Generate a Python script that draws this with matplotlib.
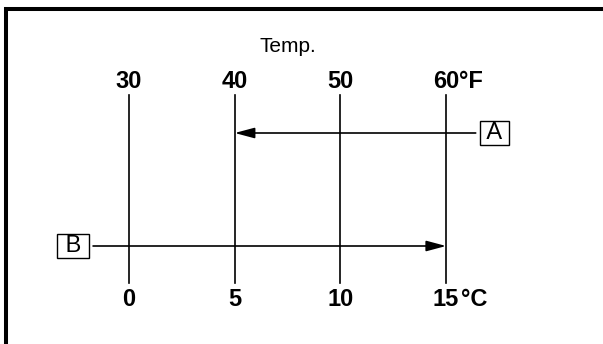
import matplotlib
matplotlib.use("Agg")
import matplotlib.pyplot as plt

# Scale labels (top: Fahrenheit, bottom: Celsius)
fahrenheit = ["30", "40", "50", "60"]
celsius = ["0", "5", "10", "15"]
units = ["°F", "°C"]
positions = [0, 1, 2, 3]

# Arrows: (label, start position, end position)
arrow_a = ("A", 3.28, 1)
arrow_b = ("B", -0.34, 3)

W, H = 603, 344
STEP = 105.7   # pixels between two scale lines
X0 = 129       # pixel position of the first line
fig = plt.figure(figsize=(W / 100, H / 100), dpi=100)
ax = fig.add_axes([0, 0, 1, 1])
xmin, xmax = -X0 / STEP, (W - X0) / STEP
ax.set_xlim(xmin, xmax)
ax.set_ylim(H, 0)
ax.axis("off")

font = ["Liberation Sans", "DejaVu Sans"]

# frame (top and left only)
ax.plot([xmin + 6 / STEP] * 2, [H, 7], color="black", lw=2.9, solid_capstyle="butt")
ax.plot([xmin + 4 / STEP, xmax], [9, 9], color="black", lw=2.9, solid_capstyle="butt")

ax.text(1.5, 46, "Temp.", ha="center", va="center", fontsize=15, family=font)

num_style = dict(va="center", fontsize=17, family=font, fontweight="bold")
for x, f, c in zip(positions, fahrenheit, celsius):
    ax.plot([x, x], [95, 283], color="black", lw=1.2)
    ax.text(x, 81, f, ha="center", **num_style)
    ax.text(x, 300, c, ha="center", **num_style)
ax.annotate(units[0], (positions[-1], 81), xytext=(9.5, 0), textcoords="offset points",
            ha="left", **num_style)
ax.annotate(units[1], (positions[-1], 300), xytext=(10.5, 0), textcoords="offset points",
            ha="left", **num_style)

for (lab, x0, x1), y, side in [(arrow_a, 133, 1), (arrow_b, 246, -1)]:
    ax.annotate("", xy=(x1, y), xytext=(x0, y),
                arrowprops=dict(arrowstyle="-|>,head_length=1.2,head_width=0.32",
                                color="black", lw=1.2, mutation_scale=10,
                                shrinkA=0, shrinkB=0))
    ax.annotate(" " + lab + " ", (x0, y), xytext=(side * 4, 0),
                textcoords="offset points", ha="left" if side > 0 else "right",
                va="center", fontsize=17, family=font,
                bbox=dict(boxstyle="square,pad=0.06", fc="white", ec="black", lw=1.0))

fig.savefig("out.png", dpi=100)
